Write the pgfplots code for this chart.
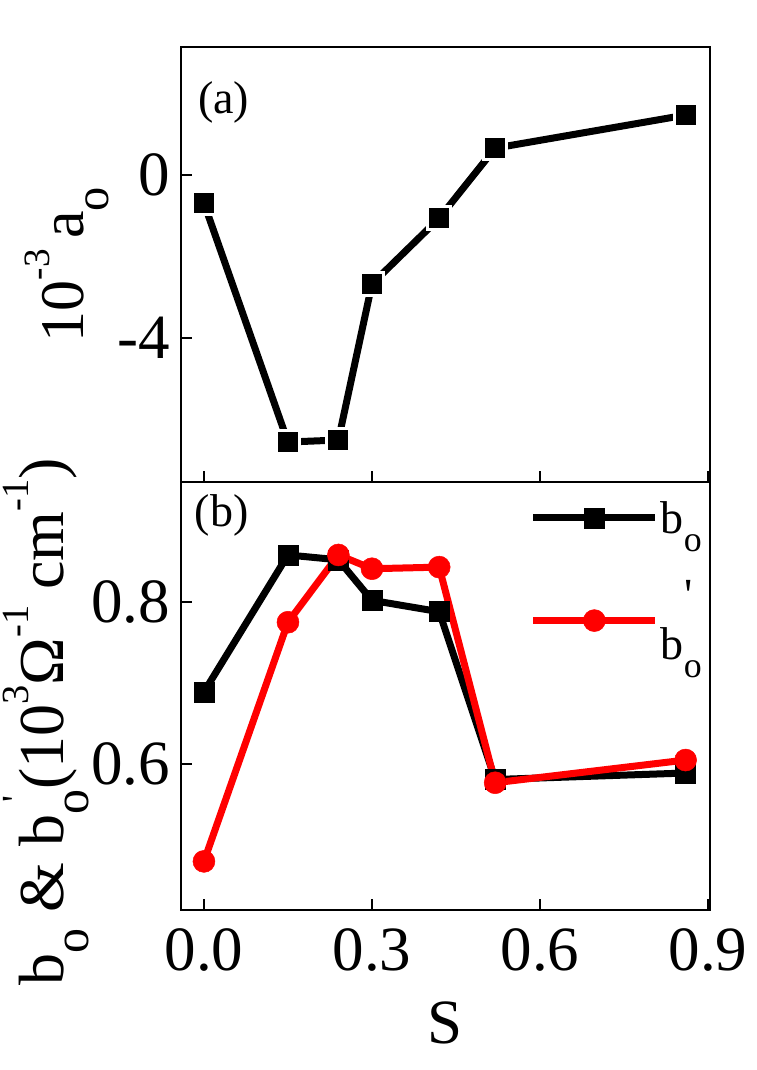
\documentclass[border=0pt]{standalone}
\usepackage{pgfplots}
\pgfplotsset{compat=1.18}
\usepackage{fontspec}
\setmainfont{Liberation Serif}
\setsansfont{Liberation Serif}
\newfontfamily\tms{Liberation Serif}
\makeatletter
\newcommand{\Sup}[1]{\raisebox{0.55em}{\fontsize{\fpeval{0.6*\f@size}}{0}\selectfont #1}}
\newcommand{\Sub}[1]{\raisebox{-0.4em}{\fontsize{\fpeval{0.78*\f@size}}{0}\selectfont #1}}
\makeatother
\newcommand{\Prm}{\textquotesingle}
\pgfplotstableread{
x y
0.00 -0.69
0.15 -6.55
0.24 -6.50
0.30 -2.67
0.42 -1.06
0.52 0.66
0.86 1.47
}\tableA
\pgfplotstableread{
x y
0.00 0.689
0.15 0.858
0.24 0.852
0.30 0.802
0.42 0.788
0.52 0.581
0.86 0.589
}\tableB
\pgfplotstableread{
x y
0.00 0.480
0.15 0.775
0.24 0.858
0.30 0.841
0.42 0.843
0.52 0.577
0.86 0.605
}\tableC
\begin{document}
\begin{tikzpicture}
\path[use as bounding box] (0pt,0pt) rectangle (756pt,-1070pt);
\pgfplotsset{
  myaxis/.style={
    scale only axis, width=529pt,
    xmin=-0.041, xmax=0.9036,
    xtick={0,0.3,0.6,0.9},
    tick align=inside, tick pos=left,
    major tick length=11pt,
    axis line style={line width=2.2pt},
    every tick/.style={line width=2.2pt, black},
    tick label style={font=\tms\fontsize{63}{70}\selectfont},
    /pgf/number format/assume math mode=true,
    yticklabel style={inner sep=2pt, xshift=-9pt},
    xticklabel style={inner sep=2pt, yshift=-16pt},
  },
  blk/.style={black, line width=7pt, mark=square*, mark size=11.5pt,
    mark options={fill=black, draw=white, line width=3pt}},
  rd/.style={red, line width=7pt, mark=*, mark size=12.5pt,
    mark options={fill=red, draw=white, line width=3pt}},
}
\begin{axis}[myaxis,
  at={(181pt,-482pt)}, anchor=south west, height=435pt,
  ymin=-7.53, ymax=3.14, ytick={-4,0},
  xticklabels={},
  ylabel={\tms 10\Sup{-3}\,a\Sub{o}},
  ylabel style={at={(axis description cs:-0.215,0.5)}, anchor=center, font=\tms\fontsize{62}{70}\selectfont},
]
\addplot[blk] table[x=x,y=y] {\tableA};
\node[anchor=north west, font=\tms\fontsize{46}{50}\selectfont, inner sep=0pt] at (rel axis cs:0.032,0.92) {(a)};
\end{axis}
\begin{axis}[myaxis,
  at={(181pt,-910pt)}, anchor=south west, height=428pt,
  ymin=0.42, ymax=0.948, ytick={0.6,0.8},
  yticklabel style={/pgf/number format/.cd, fixed, fixed zerofill, precision=1},
  xticklabel style={/pgf/number format/.cd, fixed, fixed zerofill, precision=1},
  xlabel={\tms S},
  xlabel style={at={(axis description cs:0.5,0)}, anchor=north, yshift=-88pt, font=\tms\fontsize{63}{70}\selectfont},
  ylabel={\tms b\Sub{o} \& b\Sub{o}\llap{\Sup{\Prm}\hspace{6pt}}(10\Sup{3}Ω\Sup{-1} cm\Sup{-1})},
  ylabel style={at={(axis description cs:-0.255,0.44)}, anchor=center, font=\tms\fontsize{64}{70}\selectfont},
  legend style={at={(1,1)}, anchor=north east, draw=none, fill=none,
    font=\tms\fontsize{46}{50}\selectfont, row sep=42pt, yshift=-17pt, xshift=-6pt,
    inner sep=0pt, nodes={inner sep=2pt}},
  legend cell align=left,
  legend image code/.code={\draw[mark repeat=2,mark phase=2,#1] plot coordinates {(0pt,0pt)(61pt,0pt)(122pt,0pt)};},
]
\addplot[blk, mark options={fill=black, draw=black, line width=0.5pt, mark size=10pt}] table[x=x,y=y] {\tableB};
\addlegendentry{b\Sub{o}}
\addplot[rd, mark options={fill=red, draw=red, line width=0.5pt, mark size=11pt}] table[x=x,y=y] {\tableC};
\addlegendentry{b\Sub{o}\llap{\raisebox{1.05em}{\Prm}\hspace{9pt}}}
\node[anchor=north west, font=\tms\fontsize{46}{50}\selectfont, inner sep=0pt] at (rel axis cs:0.026,0.97) {(b)};
\end{axis}
\end{tikzpicture}
\end{document}
